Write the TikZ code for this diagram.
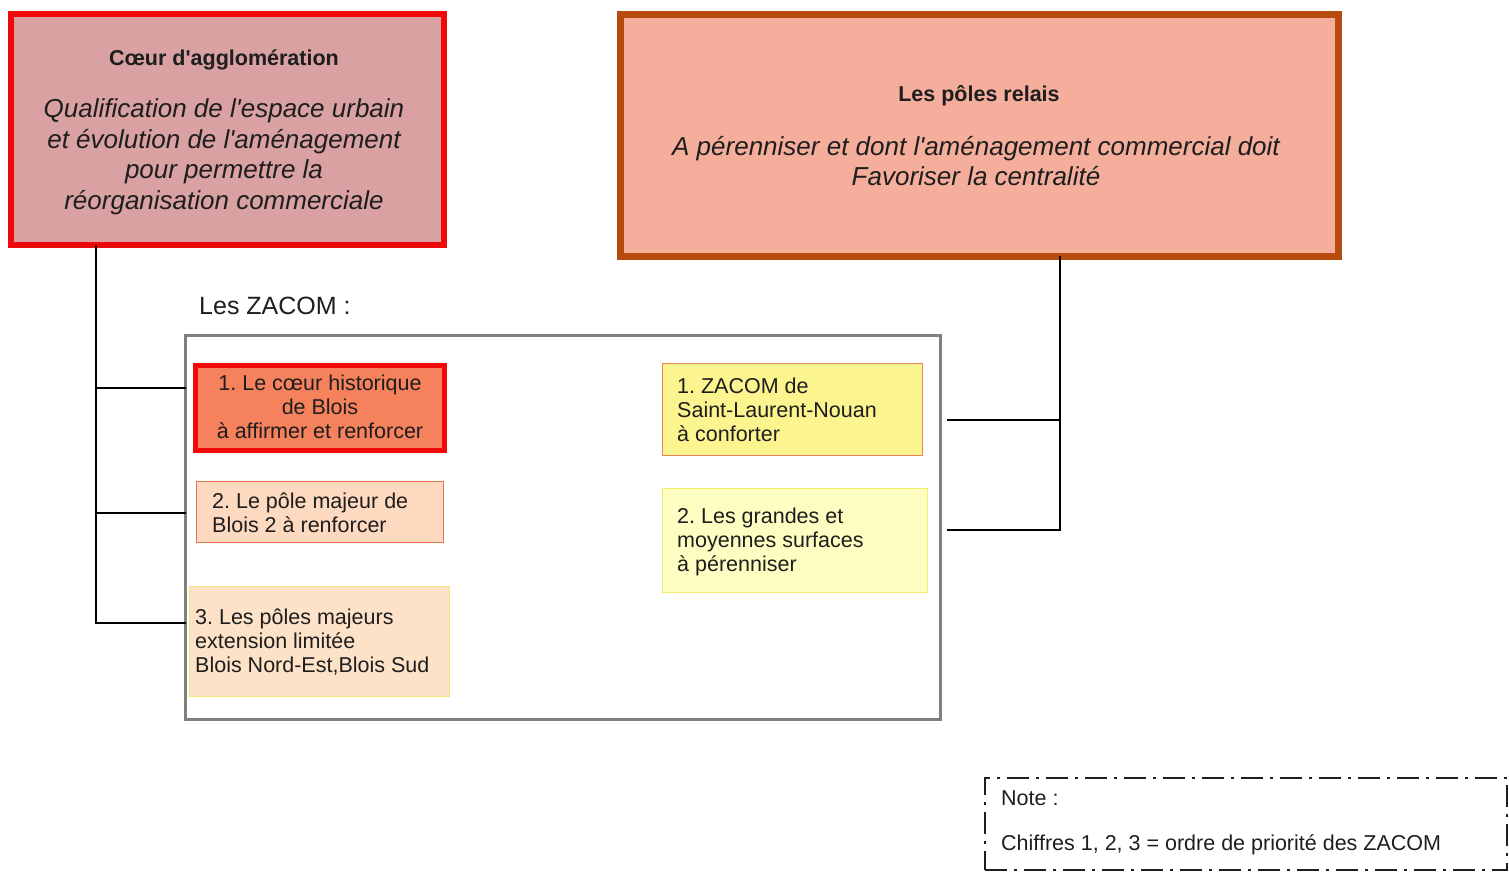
\documentclass[tikz,border=0pt]{standalone}
\usepackage{fontspec}
\setmainfont{Liberation Sans}
\frenchspacing
\definecolor{txt}{HTML}{1E1E1E}
\definecolor{redb}{HTML}{EE0A0A}
\definecolor{coeurfill}{HTML}{D9A1A2}
\definecolor{relaisb}{HTML}{B74A0D}
\definecolor{relaisfill}{HTML}{F5AE9B}
\definecolor{onefill}{HTML}{F5825D}
\definecolor{twob}{HTML}{E2754F}
\definecolor{twofill}{HTML}{FDD9BF}
\definecolor{threeb}{HTML}{F0E87C}
\definecolor{threefill}{HTML}{FDE2C8}
\definecolor{rtb}{HTML}{E8865A}
\definecolor{rtfill}{HTML}{FCF48E}
\definecolor{rbb}{HTML}{F2EE68}
\definecolor{rbfill}{HTML}{FEFDC2}
\definecolor{zgray}{HTML}{808080}
\tikzset{
  box/.style={draw, rectangle, inner sep=0pt, outer sep=0pt},
  lbl/.style={inner sep=0pt, text=txt, font=\fontsize{21.5}{24}\selectfont},
  ital/.style={inner sep=0pt, text=txt, align=center, font=\fontsize{26}{30.5}\selectfont\itshape},
  ttl/.style={inner sep=0pt, text=txt, font=\fontsize{21.5}{24}\selectfont\bfseries},
  conn/.style={draw=black, line width=1.8pt},
}
\begin{document}
\begin{tikzpicture}[x=1pt,y=-1pt]
\useasboundingbox (0,0) rectangle (1509,885);
% top boxes
\node[box, line width=6pt, draw=redb, fill=coeurfill, minimum width=433pt, minimum height=231pt] (coeur) at (227.5,129.5) {};
\node[box, line width=7pt, draw=relaisb, fill=relaisfill, minimum width=718pt, minimum height=242pt] (relais) at (979.5,135.5) {};
\node[ttl] (ctitle) at (224,60) {Cœur d\textquotesingle agglomération};
\node[ital] (ctext) at (224,157) {Qualification de l\textquotesingle espace urbain\\ et évolution de l\textquotesingle aménagement\\ pour permettre la\\ réorganisation commerciale};
\node[ttl] (rtitle) at (979,96) {Les pôles relais};
\node[ital] (rtext) at (976,161) {A pérenniser et dont l\textquotesingle aménagement commercial doit\\ Favoriser la centralité};
% ZACOM
\node[inner sep=0pt, anchor=west, text=txt, font=\fontsize{25}{28}\selectfont] (zlabel) at (199,306) {Les ZACOM :};
\node[box, line width=3pt, draw=zgray, minimum width=755pt, minimum height=384pt] (zacom) at (563,527.5) {};
\node[box, line width=5pt, draw=redb, fill=onefill, minimum width=249pt, minimum height=85pt] (l1) at (320,408) {};
\node[box, line width=1.5pt, draw=twob, fill=twofill, minimum width=247pt, minimum height=61pt] (l2) at (320,512) {};
\node[box, line width=1.5pt, draw=threeb, fill=threefill, minimum width=260pt, minimum height=110pt] (l3) at (319.5,641.5) {};
\node[box, line width=1.5pt, draw=rtb, fill=rtfill, minimum width=260pt, minimum height=92pt] (r1) at (792.5,409.5) {};
\node[box, line width=1.5pt, draw=rbb, fill=rbfill, minimum width=265pt, minimum height=104pt] (r2) at (795,540.5) {};
\node[lbl, align=center] (l1t) at (320,407) {1. Le cœur historique\\ de Blois\\ à affirmer et renforcer};
\node[lbl, align=left, anchor=west] (l2t) at (212,513) {2. Le pôle majeur de\\ Blois 2 à renforcer};
\node[lbl, align=left, anchor=west] (l3t) at (195,642) {3. Les pôles majeurs\\ extension limitée\\ Blois Nord-Est,Blois Sud};
\node[lbl, align=left, anchor=west] (r1t) at (677,410) {1. ZACOM de\\ Saint-Laurent-Nouan\\ à conforter};
\node[lbl, align=left, anchor=west] (r2t) at (677,542) {2. Les grandes et\\ moyennes surfaces\\ à pérenniser};
% left connectors
\coordinate (lbot) at (96,623);
\coordinate (lb1) at (96,388);
\coordinate (lb2) at (96,513);
\draw[conn] (coeur.south -| lbot) -- (lbot) -- (lbot -| zacom.west);
\draw[conn] (lb1) -- (lb1 -| zacom.west);
\draw[conn] (lb2) -- (lb2 -| zacom.west);
% right connectors
\coordinate (rbot) at (1060,530);
\coordinate (rb1) at (1060,420);
\coordinate (re1) at (947,420);
\coordinate (re2) at (947,530);
\draw[conn] (relais.south -| rbot) -- (rbot) -- (re2);
\draw[conn] (rb1) -- (re1);
% note
\node[box, line width=1.8pt, draw=txt, dash pattern=on 22pt off 7pt on 3pt off 7pt, minimum width=522pt, minimum height=92pt] (note) at (1246,824) {};
\node[lbl, anchor=west] (notet) at (1001,798) {Note :};
\node[lbl, anchor=west] (notec) at (1001,845) {Chiffres 1, 2, 3 = ordre de priorité des ZACOM};
\end{tikzpicture}
\end{document}
